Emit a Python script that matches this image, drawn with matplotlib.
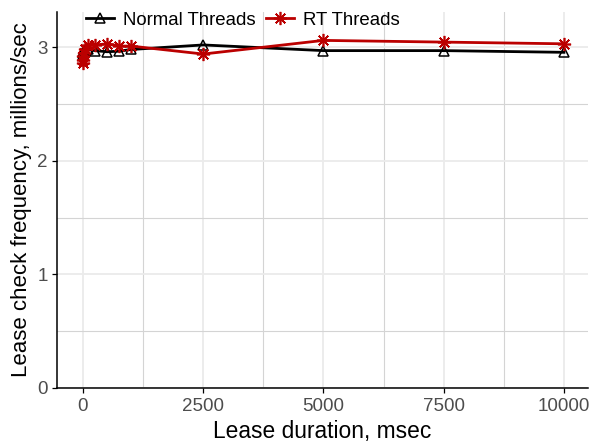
import matplotlib
matplotlib.use("Agg")
import matplotlib.pyplot as plt
from matplotlib.ticker import FixedLocator

plt.rcParams['font.family'] = ['Liberation Sans', 'DejaVu Sans']

lease_ms = [1, 5, 10, 25, 50, 100, 250, 500, 750, 1000, 2500, 5000, 7500, 10000]
normal_threads = [2.93, 2.95, 2.96, 2.97, 2.97, 2.98, 2.97, 2.96, 2.965, 2.98, 3.02, 2.97, 2.97, 2.955]
rt_threads = [2.86, 2.89, 2.92, 2.95, 2.98, 3.02, 3.02, 3.03, 3.01, 3.01, 2.94, 3.06, 3.045, 3.03]

x_ticks = [0, 2500, 5000, 7500, 10000]
y_ticks = [0, 1, 2, 3]

fig = plt.figure(figsize=(5.9, 4.43), dpi=100)
ax = fig.add_axes([57/590, 1 - 388/443, (588 - 57)/590, (388 - 12)/443])

ax.set_xlim(-540, 10500)
ax.set_ylim(0, 3.31)

ax.xaxis.set_major_locator(FixedLocator(x_ticks))
ax.xaxis.set_minor_locator(FixedLocator([1250, 3750, 6250, 8750]))
ax.yaxis.set_major_locator(FixedLocator(y_ticks))
ax.yaxis.set_minor_locator(FixedLocator([0.5, 1.5, 2.5]))

ax.grid(which='major', color='#EBEBEB', linewidth=1.3)
ax.grid(which='minor', color='#D4D4D4', linewidth=0.8)
ax.set_axisbelow(True)

for s in ['top', 'right']:
    ax.spines[s].set_visible(False)
for s in ['left', 'bottom']:
    ax.spines[s].set_linewidth(1.1)
    ax.spines[s].set_color('black')

ax.tick_params(which='major', direction='out', length=3.5, width=0.9, color='black',
               labelsize=13.5, labelcolor='#4D4D4D', pad=3)
ax.tick_params(axis='x', which='major', pad=3.5)
ax.tick_params(which='minor', length=0)

ax.plot(lease_ms, normal_threads, color='black', linewidth=2, marker='^',
        markersize=7, markerfacecolor='none', markeredgecolor='black',
        markeredgewidth=1.1, label='Normal Threads', clip_on=False, zorder=3)
ax.plot(lease_ms, rt_threads, color='#BB0000', linewidth=2, marker=(8, 2, 0),
        markersize=9.5, markeredgecolor='#BB0000', markeredgewidth=1.2,
        label='RT Threads', clip_on=False, zorder=4)

ax.set_xlabel('Lease duration, msec', fontsize=16.4, labelpad=4)
ax.set_ylabel('Lease check frequency, millions/sec', fontsize=16, labelpad=4)

leg = ax.legend(loc='center left', bbox_to_anchor=(0.04, 1.0 - 8/376), ncol=2, frameon=False,
                fontsize=13.4, handlelength=1.5, handletextpad=0.5, columnspacing=0.55,
                borderaxespad=0)

fig.savefig('out.png', dpi=100)
